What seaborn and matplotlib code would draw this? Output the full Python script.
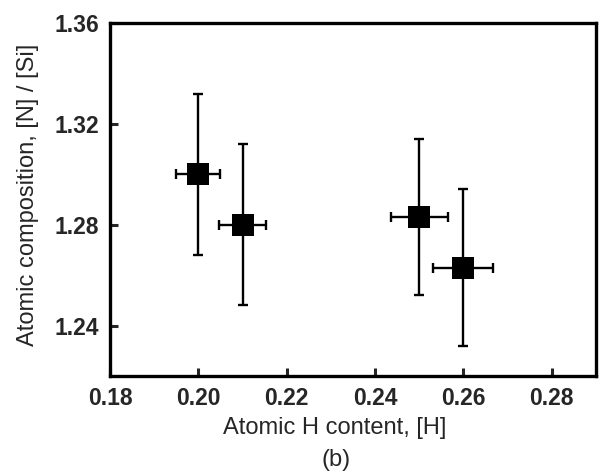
import matplotlib
matplotlib.use("Agg")
import matplotlib.pyplot as plt
import seaborn as sns
import pandas as pd

h_content = [0.20, 0.21, 0.25, 0.26]
n_si = [1.300, 1.280, 1.283, 1.263]
y_err = [0.032, 0.032, 0.031, 0.031]
x_err = [0.005, 0.0054, 0.0065, 0.0068]
x_ticks = [0.18, 0.20, 0.22, 0.24, 0.26, 0.28]
y_ticks = [1.24, 1.28, 1.32, 1.36]

sns.set_style("ticks")
plt.rcParams['font.family'] = ['Liberation Sans', 'DejaVu Sans']

df = pd.DataFrame({"h": h_content, "r": n_si})

fig = plt.figure(figsize=(5.99, 4.73), dpi=100)
ax = fig.add_axes([110/599, 1-376/473, (596-110)/599, (376-23)/473])

ax.errorbar(h_content, n_si, yerr=y_err, xerr=x_err, fmt='none', ecolor='black',
            elinewidth=1.7, capsize=3.5, capthick=1.7, zorder=2)
sns.scatterplot(data=df, x="h", y="r", marker='s', s=230, color='black',
                edgecolor='black', linewidth=0, ax=ax, zorder=3)

ax.set_xlim(0.18, 0.29)
ax.set_ylim(1.22, 1.36)
ax.set_xticks(x_ticks)
ax.set_yticks(y_ticks)
ax.set_xticklabels([f"{t:.2f}" for t in x_ticks], fontsize=16.5, fontweight='bold')
ax.set_yticklabels([f"{t:.2f}" for t in y_ticks], fontsize=16.5, fontweight='bold')
ax.tick_params(direction='in', length=6, width=2.2, pad=8)
for sp in ax.spines.values():
    sp.set_linewidth(2.4)
    sp.set_color('black')
ax.set_xlabel("")
ax.set_ylabel("")

fig.text(335/599, 1-428/473, "Atomic H content, [H]", ha='center', va='center', fontsize=17)
fig.text(336/599, 1-460/473, "(b)", ha='center', va='center', fontsize=17)
fig.text(28/599, 1-195/473, "Atomic composition, [N] / [Si]", ha='center', va='center',
         rotation=90, fontsize=17)

fig.savefig("out.png", dpi=100)
